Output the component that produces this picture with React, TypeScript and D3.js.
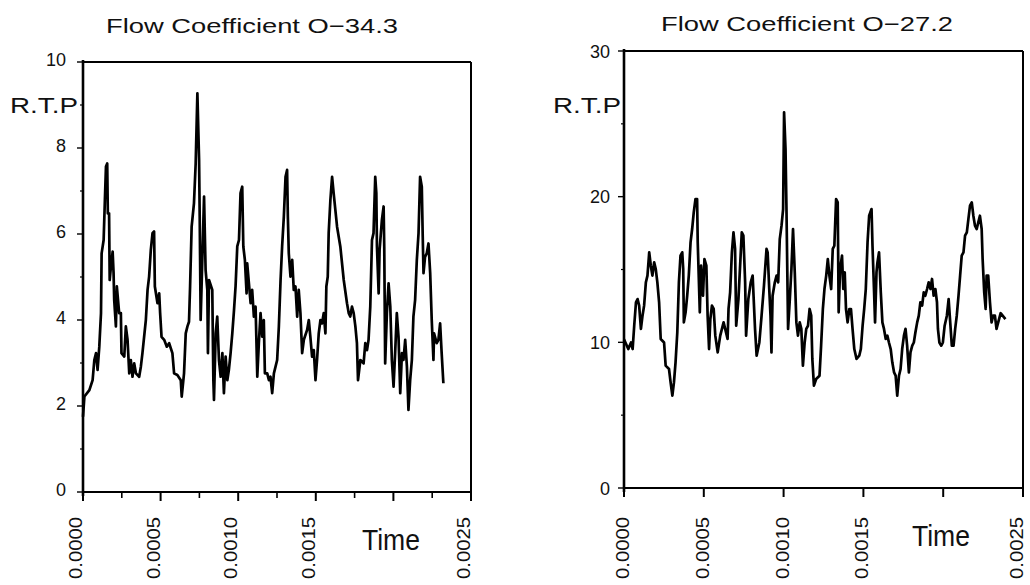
import React from "react";
import * as d3 from "d3";

// ---- Data (time in microseconds, R.T.P values) ----
const leftTitle = "Flow Coefficient O\u221234.3";
const rightTitle = "Flow Coefficient O\u221227.2";

const leftTimeUs = [0,9,41,62,73,84,94,105,116,120,133,141,148,156,160,168,172,180,191,197,201,212,218,233,244,248,266,276,287,298,308,319,330,341,362,373,383,405,416,426,437,448,458,463,480,491,497,506,523,540,555,576,587,608,630,636,651,662,673,683,690,700,715,726,737,748,752,758,780,790,801,805,812,833,840,844,855,865,876,887,898,908,919,930,940,951,962,973,983,994,1005,1015,1026,1033,1043,1054,1058,1069,1080,1090,1101,1112,1123,1133,1144,1155,1165,1172,1187,1198,1208,1219,1230,1251,1262,1273,1283,1294,1305,1315,1320,1326,1337,1348,1358,1369,1380,1390,1401,1412,1423,1444,1455,1465,1476,1487,1498,1508,1519,1530,1540,1551,1562,1568,1577,1583,1594,1605,1615,1626,1637,1658,1680,1701,1712,1722,1733,1744,1755,1765,1772,1787,1808,1819,1830,1840,1851,1862,1872,1883,1890,1894,1905,1911,1926,1937,1941,1947,1958,1969,1980,1990,2001,2012,2022,2033,2044,2055,2065,2076,2087,2097,2108,2119,2129,2140,2151,2162,2172,2183,2189,2194,2204,2215,2226,2237,2247,2258,2262,2279,2290,2301,2311,2322];
const leftRTP = [1.75,2.22,2.37,2.60,3.07,3.23,2.84,3.38,4.16,5.55,5.86,6.79,7.57,7.64,6.48,6.48,4.93,5.24,5.59,5.09,4.47,3.85,4.78,4.16,4.16,3.23,3.15,3.85,3.54,2.76,3.07,2.68,2.99,2.76,2.68,2.92,3.23,4.0,4.70,5.01,5.63,6.02,6.06,4.78,4.39,4.62,4.16,3.61,3.54,3.38,3.46,3.23,2.76,2.72,2.60,2.22,2.76,3.69,3.85,3.96,4.78,6.17,6.71,7.64,9.27,7.72,6.40,4.0,6.87,5.16,4.70,3.23,4.93,4.70,2.60,2.14,3.69,4.08,3.07,2.68,3.23,2.30,3.15,2.60,2.84,3.23,3.69,4.23,4.78,5.71,5.86,6.95,7.10,5.71,5.40,4.62,5.32,4.85,4.39,4.70,4.08,4.31,2.68,3.46,4.16,3.61,4.0,2.76,2.76,2.60,2.68,2.30,2.76,3.07,3.85,4.93,5.71,6.40,7.33,7.49,6.40,5.55,5.01,5.40,4.70,4.78,4.08,4.70,4.16,3.23,3.54,3.77,4.0,3.61,3.15,3.30,2.60,3.07,3.69,4.0,3.92,4.16,3.69,4.78,5.01,6.02,6.79,7.33,6.95,6.56,6.17,5.71,4.93,4.39,4.16,4.08,4.31,4.16,3.85,3.46,2.60,3.07,2.99,3.46,3.30,3.54,4.31,5.86,6.02,7.33,6.95,5.71,4.62,5.63,6.33,6.64,5.71,2.99,4.16,4.85,4.31,3.07,2.45,3.30,4.16,3.61,2.30,3.23,3.07,3.54,2.92,1.91,2.60,3.07,4.08,4.47,5.40,6.02,7.33,7.10,5.94,5.09,5.47,5.55,5.78,5.09,4.0,3.07,3.69,3.46,3.54,3.92,3.23,2.53];

const rightTimeUs = [0,27,44,54,64,75,85,95,106,116,126,137,147,158,168,178,189,199,209,220,230,251,261,282,292,303,313,323,334,344,354,365,371,375,386,396,406,417,427,437,448,458,462,475,483,495,504,516,524,533,541,551,562,572,587,603,624,634,649,655,665,676,686,696,703,717,738,748,759,765,779,794,806,821,831,848,862,877,893,900,910,918,924,931,945,956,966,976,987,997,1003,1012,1018,1028,1039,1049,1059,1070,1080,1090,1101,1111,1121,1132,1142,1153,1163,1173,1180,1190,1204,1225,1235,1246,1256,1267,1277,1287,1298,1308,1318,1329,1339,1345,1354,1366,1374,1383,1391,1401,1412,1422,1432,1443,1457,1474,1484,1495,1505,1515,1526,1536,1551,1557,1567,1573,1582,1588,1598,1609,1619,1629,1640,1650,1660,1671,1681,1692,1702,1712,1723,1733,1743,1754,1764,1774,1785,1795,1806,1816,1826,1837,1847,1857,1868,1878,1888,1899,1909,1920,1930,1940,1951,1961,1967,1976,1988,1998,2009,2023,2034,2044,2054,2065,2075,2085,2096,2106,2116,2127,2137,2148,2158,2168,2179,2189,2199,2210,2220,2230,2241,2247,2257,2266,2272,2282,2293,2303,2313,2324,2334,2360,2390];
const rightRTP = [10.2,9.54,9.99,9.54,11.14,12.75,12.97,12.52,10.92,11.83,12.52,14.12,14.58,16.18,15.26,14.58,15.49,15.03,14.12,12.75,10.23,9.99,8.40,8.17,7.25,6.34,7.25,8.63,10.69,14.12,15.95,16.18,15.03,11.37,12.06,13.20,14.58,16.86,17.78,18.92,19.84,19.84,16.86,12.06,15.26,13.20,15.72,15.26,11.83,9.54,11.60,12.52,12.29,10.46,9.31,10.46,11.37,10.92,10.23,12.29,13.43,16.18,17.55,16.41,11.14,12.97,17.55,17.32,14.12,10.46,12.97,14.12,14.58,10.92,9.08,9.99,11.83,13.89,16.41,16.18,13.66,11.83,9.31,13.20,14.12,14.58,14.12,17.09,18.01,19.15,25.79,23.27,19.15,10.92,12.97,15.03,17.78,14.80,11.37,10.46,11.37,10.92,8.40,9.99,10.92,11.14,12.29,11.83,8.86,7.03,7.48,7.71,9.77,12.29,13.66,14.58,15.72,14.58,13.66,16.41,16.63,19.84,19.61,12.06,15.03,15.95,13.66,14.80,12.29,11.37,12.29,12.29,10.92,9.54,8.86,9.08,9.54,11.14,12.29,13.66,16.86,18.69,19.15,16.63,13.43,11.37,14.80,15.49,16.18,13.43,11.37,10.92,10.23,10.46,9.99,9.54,8.63,7.94,7.71,6.34,7.71,8.17,9.54,10.46,10.92,9.77,7.94,9.31,9.77,9.99,10.69,11.37,11.83,12.75,12.52,13.43,13.20,13.66,14.12,13.66,14.35,13.20,13.66,12.75,10.92,9.99,9.77,9.99,11.14,11.83,12.97,11.37,9.77,9.77,10.92,11.83,13.20,14.58,15.95,16.18,17.32,17.55,18.47,19.38,19.61,18.69,18.01,17.78,18.24,18.69,17.78,15.72,13.43,12.29,14.58,14.58,12.75,11.37,11.83,11.83,10.92,12.0,11.6];

const xDomain = [0, 0.0025];
const xMajorTicks = [0, 0.0005, 0.001, 0.0015, 0.002, 0.0025];
const xLabelTicks = [0, 0.0005, 0.001, 0.0015, 0.0025];
const leftXMinorTicks = [0.00025, 0.00075, 0.00125, 0.00175, 0.00225];
const leftYTicks = [0, 2, 4, 6, 8, 10];
const leftYMinor = [1, 3, 5, 7, 9];
const rightYTicks = [0, 10, 20, 30];
const rightYMinor = [5, 15, 25];
const yLabel = "R.T.P";
const xLabel = "Time";

const FONT = "'Liberation Sans', Arial, Helvetica, sans-serif";

type PanelProps = {
  title: string;
  titleX: number;
  titleY: number;
  times: number[];
  values: number[];
  yMax: number;
  yTicks: number[];
  yMinor: number[];
  xMinor: number[];
  box: { x0: number; x1: number; y0: number; y1: number };
  yLabelGap: number;
  yLabelDy: number;
  rtpX: number;
  xLabelShift: number;
  timeX: number;
  timeY: number;
};

function Panel(p: PanelProps) {
  const { box } = p;
  const xs = d3.scaleLinear().domain(xDomain).range([box.x0, box.x1]);
  const ys = d3.scaleLinear().domain([0, p.yMax]).range([box.y1, box.y0]);
  const pts: [number, number][] = p.times.map((t, i) => [t / 1e6, p.values[i]]);
  const line = d3
    .line<[number, number]>()
    .x((d) => xs(d[0]))
    .y((d) => ys(d[1]));
  const fmt = d3.format(".4f");
  return (
    <g>
      <text x={p.titleX} y={p.titleY} fontSize={21} textAnchor="middle" fontFamily={FONT}
        textLength={292} lengthAdjust="spacingAndGlyphs" fill="#111">{p.title}</text>
      {/* frame */}
      <line x1={box.x0} x2={box.x1} y1={box.y0} y2={box.y0} stroke="#000" strokeWidth={1.8} />
      <line x1={box.x1} x2={box.x1} y1={box.y0} y2={box.y1} stroke="#000" strokeWidth={2} />
      <line x1={box.x0} x2={box.x1} y1={box.y1} y2={box.y1} stroke="#000" strokeWidth={2} />
      <line x1={box.x0} x2={box.x0} y1={box.y0 - 2} y2={box.y1 + 4} stroke="#000" strokeWidth={2.6} />
      {/* y ticks */}
      {p.yTicks.map((v) => (
        <g key={"yt" + v}>
          <line x1={box.x0 - 6} x2={box.x0} y1={ys(v)} y2={ys(v)} stroke="#000" strokeWidth={1.4} />
          <text x={box.x0 - p.yLabelGap} y={ys(v) + p.yLabelDy} fontSize={18} textAnchor="end"
            fontFamily={FONT} fill="#111">{v}</text>
        </g>
      ))}
      {p.yMinor.map((v) => (
        <line key={"ym" + v} x1={box.x0 - 3} x2={box.x0} y1={ys(v)} y2={ys(v)} stroke="#000" strokeWidth={1.2} />
      ))}
      {/* x ticks */}
      {xMajorTicks.map((t) => (
        <line key={"xt" + t} x1={xs(t)} x2={xs(t)} y1={box.y1} y2={box.y1 + 9} stroke="#000" strokeWidth={2} />
      ))}
      {p.xMinor.map((t) => (
        <line key={"xm" + t} x1={xs(t)} x2={xs(t)} y1={box.y1} y2={box.y1 + 6} stroke="#000" strokeWidth={1.6} />
      ))}
      {xLabelTicks.map((t) => (
        <text key={"xl" + t} transform={`translate(${Math.min(xs(t) + p.xLabelShift, 1023)},${517}) rotate(-90)`}
          fontSize={19} textAnchor="end" fontFamily={FONT} fill="#111"
          textLength={62} lengthAdjust="spacingAndGlyphs">{fmt(t)}</text>
      ))}
      {/* axis titles */}
      <text x={p.rtpX} y={113} fontSize={22} fontFamily={FONT} fill="#111"
        textLength={68} lengthAdjust="spacingAndGlyphs">{yLabel}</text>
      <text x={p.timeX} y={p.timeY} fontSize={29} fontFamily={FONT} fill="#111"
        textLength={58} lengthAdjust="spacingAndGlyphs">{xLabel}</text>
      {/* series */}
      <path d={line(pts) || ""} fill="none" stroke="#000" strokeWidth={2.7} strokeLinejoin="round" />
    </g>
  );
}

export default function App() {
  return (
    <svg width={1030} height={585} style={{ position: "absolute", left: 0, top: 0, background: "#fff" }}>
      <rect width={1030} height={585} fill="#fff" />
      <Panel
        title={leftTitle}
        titleX={252}
        titleY={33}
        times={leftTimeUs}
        values={leftRTP}
        yMax={10}
        yTicks={leftYTicks}
        yMinor={leftYMinor}
        xMinor={leftXMinorTicks}
        box={{ x0: 83, x1: 471, y0: 62, y1: 492 }}
        yLabelGap={17}
        yLabelDy={4}
        rtpX={10}
        xLabelShift={-1}
        timeX={362}
        timeY={550}
      />
      <Panel
        title={rightTitle}
        titleX={807}
        titleY={31}
        times={rightTimeUs}
        values={rightRTP}
        yMax={30}
        yTicks={rightYTicks}
        yMinor={rightYMinor}
        xMinor={[]}
        box={{ x0: 624, x1: 1023, y0: 51, y1: 488 }}
        yLabelGap={14}
        yLabelDy={6.5}
        rtpX={553}
        xLabelShift={5}
        timeX={912}
        timeY={546}
      />
    </svg>
  );
}
